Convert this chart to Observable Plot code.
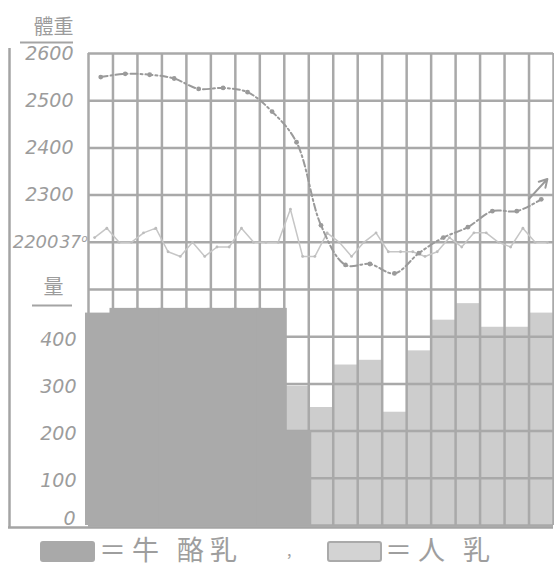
<!DOCTYPE html>
<html>
<head>
<meta charset="utf-8">
<script src="https://cdn.jsdelivr.net/npm/d3@7"></script>
<script src="https://cdn.jsdelivr.net/npm/@observablehq/plot@0.6"></script>
<style>
  html, body { margin: 0; padding: 0; background: #fff; }
  #chart { width: 554px; }
  #legend { position: relative; width: 554px; height: 39px; font-family: "Noto Sans CJK JP", "Noto Sans CJK TC", sans-serif; color: #9e9e9e; }
  #legend .sw { position: absolute; top: 11px; height: 21px; border-radius: 3px; box-sizing: border-box; }
  #legend .lab { position: absolute; top: 2px; font-size: 27px; line-height: 34px; white-space: pre; letter-spacing: 6px; }
</style>
</head>
<body>
<div id="chart"></div>
<div id="legend">
  <div class="sw" style="left:40px;width:55px;background:#a9a9a9;"></div>
  <div class="lab" style="left:99px;">＝牛 酪乳</div>
  <div class="lab" style="left:287px;font-size:16px;">,</div>
  <div class="sw" style="left:327px;width:55px;background:#d3d3d3;border:2px solid #aaaaaa;"></div>
  <div class="lab" style="left:385px;">＝人 乳</div>
</div>
<script>
// ---- data ----
const days = [1,2,3,4,5,6,7,8,9,10,11,12,13,14,15,16,17,18,19];
// daily intake (量) of buttermilk (牛酪乳) and human milk (人乳)
const buttermilk = [450,460,460,460,460,460,460,460,200,0,0,0,0,0,0,0,0,0,0];
const humanMilk  = [0,0,0,0,0,0,0,0,95,250,340,350,240,370,435,470,420,420,450];
// body weight (體重, g) per day
const weight = [2550,2557,2555,2547,2525,2527,2518,2477,2412,2236,2152,2154,2134,2177,2210,2232,2266,2266,2291];
// temperature, twice daily (°C)
const temperature = [37.1,37.3,37.0,37.0,37.2,37.3,36.8,36.7,37.0,36.7,36.9,36.9,37.3,37.0,37.0,37.0,37.7,36.7,
                     36.7,37.2,37.0,36.7,37.0,37.2,36.8,36.8,36.8,36.7,36.8,37.1,36.9,37.2,37.2,37.0,36.9,37.3,37.0,37.0];
// trend arrow at the end of the weight curve (day position, weight)
const trendArrow = [{x1: 18.0, y1: 2292, x2: 18.75, y2: 2334}];
// axis tick labels
const weightTicks = [2600, 2500, 2400, 2300];
const amountTicks = [400, 300, 200, 100];
const amountZero = [0];

// shared grid: amount 0 sits on the 1600 g line, temperature 37° on the 2200 g line
const AMOUNT_BASE = 1600;
const amt = a => AMOUNT_BASE + a;
const temp = t => 2200 + (t - 37) * 100;

// layout
const W = 554, H = 530, ML = 88, MR = 1, MT = 53, MB = 5;
const colW = (W - ML - MR) / 19;
const yPerPx = 1000 / (H - MT - MB);
const xPx = px => (px - ML) / colW;          // decoration helpers (margin positions)
const yPx = px => 2600 - (px - MT) * yPerPx;

const rows = days.map((d, i) => ({day: d, bm: buttermilk[i], hm: humanMilk[i], w: weight[i]}));
const tRows = temperature.map((t, k) => ({x: k * 0.5 + 0.25, t}));

const gridC = "#a9a9a9", txtC = "#9c9c9c", lineC = "#9a9a9a";
const numFont = {fontFamily: "DejaVu Sans", fontStyle: "italic", fontSize: 19, fill: txtC};
const cjkFont = {fontFamily: "Noto Sans CJK JP", fontSize: 20, fill: txtC, textAnchor: "middle", lineAnchor: "middle"};

const chart = Plot.plot({
  width: W, height: H, marginLeft: ML, marginRight: MR, marginTop: MT, marginBottom: MB,
  x: {domain: [0, 19], axis: null},
  y: {domain: [1600, 2600], axis: null},
  style: {background: "#fff", overflow: "visible"},
  marks: [
    // human milk bars (under grid)
    Plot.rectY(rows.filter(r => r.hm > 0), {x1: r => r.day - 1, x2: r => r.day, y1: r => amt(r.bm), y2: r => amt(r.bm + r.hm), fill: "#cdcdcd"}),
    // grid
    Plot.ruleX(d3.range(0, 20), {y1: 1600, y2: 2600, stroke: gridC, strokeWidth: 2.5}),
    Plot.ruleY(d3.range(1600, 2601, 100), {x1: 0, x2: 19, stroke: gridC, strokeWidth: 2.5}),
    // buttermilk bars (cover grid)
    Plot.rectY(rows.filter(r => r.bm > 0), {x1: r => r.day - 1, x2: r => r.day, y1: AMOUNT_BASE, y2: r => amt(r.bm), fill: "#aaaaaa", insetLeft: -3, insetRight: -3}),
    // outer frame lines (left and bottom)
    Plot.ruleX([0], {dx: -79, y1: yPx(48), y2: yPx(528), stroke: "#a4a4a4", strokeWidth: 2.5}),
    Plot.ruleY([1600], {dy: 2, x1: xPx(8), x2: 19, stroke: "#a4a4a4", strokeWidth: 2.5}),
    // temperature curve
    Plot.line(tRows, {x: "x", y: d => temp(d.t), stroke: "#c6c6c6", strokeWidth: 1.5}),
    Plot.dot(tRows, {x: "x", y: d => temp(d.t), r: 1.4, fill: "#bdbdbd"}),
    // weight curve
    Plot.line(rows, {x: r => r.day - 0.5, y: "w", curve: "catmull-rom", stroke: lineC, strokeWidth: 2, strokeDasharray: "7,3,2,3"}),
    Plot.dot(rows, {x: r => r.day - 0.5, y: "w", r: 2.4, fill: lineC}),
    Plot.arrow(trendArrow, {x1: "x1", y1: "y1", x2: "x2", y2: "y2", stroke: lineC, strokeWidth: 2, headLength: 9}),
    // y tick labels
    Plot.text(weightTicks, {y: d => d, frameAnchor: "left", dx: -15, textAnchor: "end", text: d => String(d), ...numFont}),
    Plot.text(amountTicks, {y: d => amt(d), frameAnchor: "left", dx: -12, dy: 3, textAnchor: "end", text: d => String(d), ...numFont}),
    Plot.text(amountZero, {y: d => amt(d), frameAnchor: "left", dx: -13, dy: -7, textAnchor: "end", text: d => String(d), ...numFont}),
    Plot.text(["2200"], {y: 2200, frameAnchor: "left", dx: -30, textAnchor: "end", text: d => d, ...numFont, fontSize: 18}),
    Plot.text(["37"], {y: 2200, frameAnchor: "left", dx: -29, textAnchor: "start", text: d => d, ...numFont, fontSize: 17}),
    Plot.text(["o"], {y: 2200, frameAnchor: "left", dx: -7, dy: -4, textAnchor: "start", text: d => d, ...numFont, fontSize: 10}),
    // panel titles
    Plot.text(["體重"], {frameAnchor: "top-left", dx: -35, dy: -26, text: d => d, ...cjkFont}),
    Plot.ruleY([yPx(42)], {x1: xPx(20), x2: xPx(73), stroke: "#a4a4a4", strokeWidth: 2}),
    Plot.text(["量"], {y: yPx(287), frameAnchor: "left", dx: -35, text: d => d, ...cjkFont}),
    Plot.ruleY([yPx(305)], {x1: xPx(32), x2: xPx(72), stroke: "#a4a4a4", strokeWidth: 2})
  ]
});
document.getElementById("chart").appendChild(chart);
</script>
</body>
</html>
